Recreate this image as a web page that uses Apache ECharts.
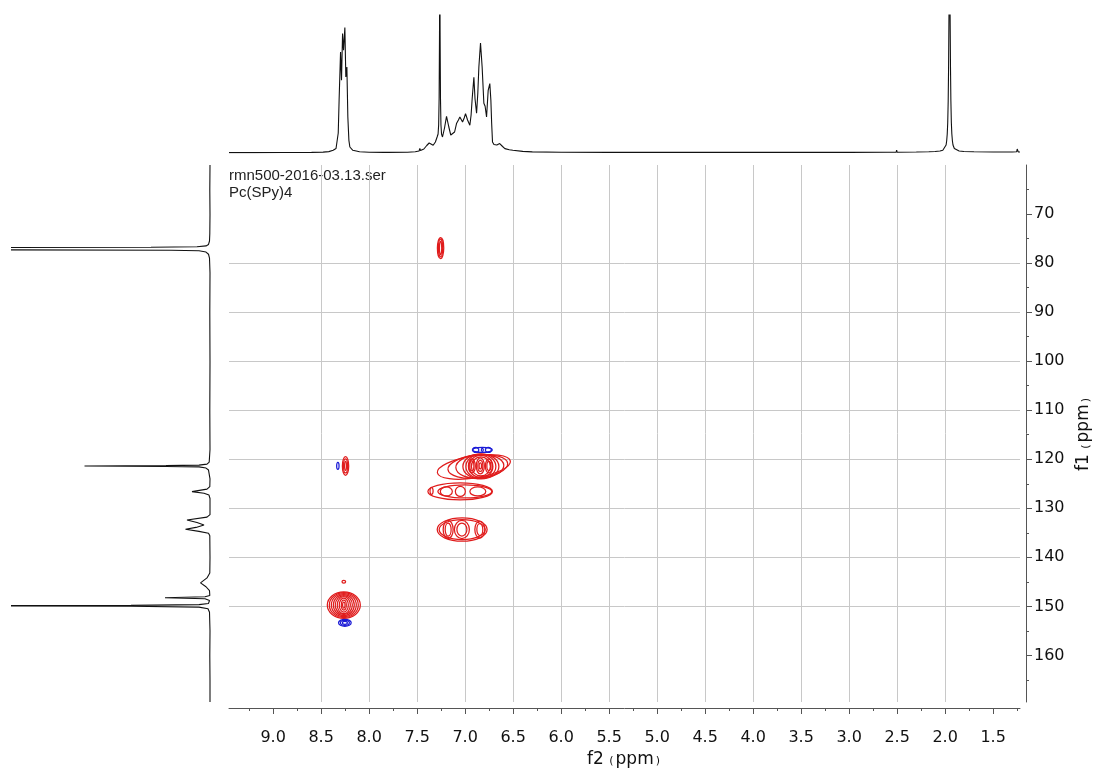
<!DOCTYPE html>
<html>
<head>
<meta charset="utf-8">
<script src="https://cdn.jsdelivr.net/npm/echarts@6/dist/echarts.min.js"></script>
<style>
  html, body { margin: 0; padding: 0; background: #ffffff; }
  #chart { width: 1095px; height: 769px; }
</style>
</head>
<body>
<div id="chart"></div>
<script>
// ---------- axis ranges and tick values (ppm) ----------
const f2Range = [1.22, 9.46];      // 1H axis (horizontal)
const f1Range = [60, 169.5];       // 13C axis (vertical)
const f2Ticks = [1.5, 2.0, 2.5, 3.0, 3.5, 4.0, 4.5, 5.0, 5.5, 6.0, 6.5, 7.0, 7.5, 8.0, 8.5, 9.0];
const f2MinorTicks = [1.25, 1.75, 2.25, 2.75, 3.25, 3.75, 4.25, 4.75, 5.25, 5.75, 6.25, 6.75, 7.25, 7.75, 8.25, 8.75, 9.25];
const f1Ticks = [70, 80, 90, 100, 110, 120, 130, 140, 150, 160];
const f1MinorTicks = [65, 75, 85, 95, 105, 115, 125, 135, 145, 155, 165];

const headerLines = ['rmn500-2016-03.13.ser', 'Pc(SPy)4'];

// ---------- 1H projection: [ppm, intensity] ----------
const protonTrace = [
  [9.46, 0.4], [9.2, 0.4], [8.9, 0.5], [8.6, 0.6], [8.48, 0.9], [8.42, 1.4], [8.375, 2.7], [8.345, 4.5],
  [8.333, 6], [8.322, 20], [8.313, 52.7], [8.298, 101], [8.288, 72.7], [8.277, 119.4], [8.267, 102.7],
  [8.253, 125.4], [8.243, 76], [8.232, 86], [8.222, 36], [8.211, 12.7], [8.201, 6], [8.185, 4], [8.170, 2.7],
  [8.10, 1.2], [8.0, 0.8], [7.85, 0.6], [7.812, 0.6], [7.806, 1.6], [7.80, 0.6], [7.6, 0.8], [7.52, 1.2],
  [7.48, 2], [7.472, 4.7], [7.465, 2.5], [7.43, 4], [7.40, 7.5], [7.375, 10], [7.355, 8.5], [7.333, 7.7],
  [7.31, 11], [7.292, 16], [7.282, 19], [7.276, 28], [7.271, 55], [7.267, 120], [7.264, 200], [7.261, 120],
  [7.257, 55], [7.252, 28], [7.246, 19], [7.236, 16], [7.215, 25], [7.194, 36.7], [7.170, 26], [7.150, 18],
  [7.131, 16], [7.110, 21], [7.090, 29.4], [7.070, 33], [7.055, 36], [7.040, 34], [7.027, 31], [7.010, 35],
  [6.996, 39.4], [6.975, 33], [6.951, 27.7], [6.938, 38], [6.927, 54], [6.909, 75.7], [6.897, 54],
  [6.881, 39.7], [6.868, 60], [6.857, 86], [6.840, 110], [6.823, 86], [6.805, 49.7], [6.792, 46.7],
  [6.777, 36], [6.760, 62.7], [6.743, 69.4], [6.732, 52.7], [6.724, 30], [6.715, 11], [6.70, 8.5],
  [6.67, 8], [6.64, 9.4], [6.61, 6.5], [6.586, 4.4], [6.54, 3.2], [6.503, 2.7], [6.40, 1.6], [6.3, 1.1],
  [6.0, 0.7], [5.5, 0.6], [5.0, 0.6], [4.5, 0.6], [4.0, 0.6], [3.5, 0.6], [3.0, 0.6], [2.6, 0.7],
  [2.51, 0.8], [2.505, 3], [2.50, 0.8], [2.3, 1.0], [2.17, 1.3], [2.16, 2], [2.15, 1.3], [2.104, 1.5],
  [2.054, 2], [2.024, 2.8], [2.004, 4.5], [1.990, 8], [1.984, 12], [1.978, 19], [1.973, 30], [1.968, 52],
  [1.964, 85], [1.959, 150], [1.954, 200], [1.949, 150], [1.944, 85], [1.940, 52], [1.935, 30], [1.930, 19],
  [1.924, 12], [1.918, 8], [1.904, 4.5], [1.884, 2.8], [1.854, 2], [1.804, 1.5], [1.7, 1.2], [1.5, 1.0],
  [1.3, 1.0], [1.255, 1.2], [1.249, 4], [1.246, 6], [1.243, 3], [1.238, 1.1], [1.22, 1.0]
];

// ---------- 13C projection: [ppm, intensity] ----------
const carbonTrace = [
  [60, 1.0], [65, 1.2], [70, 1.0], [74, 1.2], [75.5, 1.5], [76.2, 2.5], [76.5, 5], [76.68, 14], [76.78, 60],
  [76.82, 240], [77.05, 200], [77.29, 240], [77.38, 40], [77.5, 12], [77.75, 5], [78.2, 2.5], [79, 1.5],
  [82, 1.0], [90, 1.2], [100, 1.0], [110, 1.2], [118, 1.0], [120.6, 1.8], [121.0, 4], [121.2, 12],
  [121.3, 45], [121.37, 126.5], [121.45, 45], [121.55, 12], [121.8, 5], [122.2, 2.5], [122.6, 1.2],
  [124, 1.0], [125.6, 1.2], [126.1, 4], [126.6, 19], [126.95, 7], [127.3, 2], [128, 1.0], [131.3, 1.0],
  [131.8, 4], [132.39, 24], [132.9, 14], [133.41, 7], [133.9, 15], [134.29, 25.5], [134.7, 12], [135.1, 2.5],
  [135.6, 1.2], [140, 1.0], [143.2, 1.2], [144.2, 4], [145.2, 10.5], [146.0, 5], [146.8, 1.5], [147.8, 1.2],
  [148.05, 6], [148.24, 46], [148.45, 6], [148.8, 1.5], [149.4, 2.5], [149.65, 12], [149.8, 80], [149.88, 260],
  [149.98, 80], [150.15, 12], [150.5, 3], [151.2, 1.5], [155, 1.0], [160, 1.2], [165, 1.0], [169.5, 1.0]
];

// ---------- HSQC contour rings: [f2 ppm, f1 ppm, half-width f2, half-width f1, tilt deg] ----------
const positiveContours = [
  // CHCl3
  [7.256, 76.94, 0.033, 2.14, 0], [7.256, 76.94, 0.022, 1.80, 0], [7.256, 76.94, 0.012, 1.40, 0],
  // 8.25 / 121.4
  [8.246, 121.37, 0.033, 1.90, 0], [8.246, 121.37, 0.021, 1.43, 0], [8.246, 121.37, 0.010, 0.92, 0],
  // 8.26 / 149.7
  [8.264, 149.73, 0.172, 2.71, 0], [8.264, 149.73, 0.151, 2.55, 0], [8.264, 149.73, 0.130, 2.35, 0],
  [8.264, 149.73, 0.109, 2.14, 0], [8.264, 149.73, 0.089, 1.94, 0], [8.264, 149.73, 0.068, 1.73, 0],
  [8.264, 149.73, 0.047, 1.43, 0], [8.264, 149.73, 0.026, 1.02, 0], [8.264, 149.73, 0.0125, 0.61, 0],
  [8.264, 144.98, 0.019, 0.27, 0],
  // 6.85 / 121.5
  [6.909, 121.57, 0.385, 2.24, 9], [6.868, 121.47, 0.3125, 2.35, 6], [6.847, 121.47, 0.25, 2.45, 3],
  [6.836, 121.47, 0.1875, 2.55, 0], [6.836, 121.47, 0.156, 2.45, 0], [6.836, 121.47, 0.125, 2.24, 0],
  [6.836, 121.47, 0.099, 1.94, 0],
  [6.930, 121.37, 0.036, 1.43, 0], [6.930, 121.37, 0.021, 1.02, 0],
  [6.842, 121.37, 0.042, 1.63, 0], [6.842, 121.37, 0.026, 1.12, 0], [6.842, 121.37, 0.0125, 0.61, 0],
  [6.753, 121.37, 0.036, 1.43, 0], [6.753, 121.37, 0.021, 0.92, 0],
  // 7.05 / 126.6
  [7.052, 126.57, 0.336, 1.73, 0], [7.003, 126.57, 0.281, 1.33, 0], [7.350, 126.47, 0.016, 0.71, 0],
  [7.196, 126.57, 0.0625, 0.92, 0], [7.050, 126.57, 0.052, 1.02, 0], [6.868, 126.57, 0.083, 0.92, 0],
  // 7.03 / 134.3
  [7.031, 134.33, 0.260, 2.39, 0], [7.031, 134.33, 0.240, 2.04, 0],
  [7.177, 134.33, 0.052, 1.84, 0], [7.177, 134.33, 0.031, 1.33, 0],
  [7.034, 134.33, 0.078, 1.84, 0], [7.034, 134.33, 0.052, 1.33, 0],
  [6.847, 134.33, 0.052, 1.73, 0], [6.847, 134.33, 0.031, 1.22, 0]
];
const negativeContours = [
  [8.326, 121.37, 0.0125, 0.71, 0],
  [8.253, 153.35, 0.066, 0.71, 0], [8.253, 153.35, 0.047, 0.51, 0], [8.253, 153.35, 0.026, 0.31, 0],
  [6.889, 118.10, 0.031, 0.51, 0], [6.758, 118.10, 0.031, 0.51, 0], [6.821, 118.10, 0.104, 0.51, 0],
  [6.821, 118.10, 0.010, 0.31, 0]
];

// ---------- drawing ----------
const FONT = 'DejaVu Sans';
const AXIS_COLOR = '#555555';
const TEXT_COLOR = '#111111';

function contourRenderer(color) {
  return function (params, api) {
    const c = api.coord([api.value(0), api.value(1)]);
    const s = api.size([api.value(2), api.value(3)]);
    return {
      type: 'ellipse',
      x: c[0],
      y: c[1],
      rotation: api.value(4) * Math.PI / 180,
      shape: { cx: 0, cy: 0, rx: s[0], ry: s[1] },
      style: { fill: 'none', stroke: color, lineWidth: 1.25 }
    };
  };
}

const axisNameRich = {
  a: { fontFamily: FONT, fontSize: 17, color: TEXT_COLOR },
  b: { fontFamily: FONT, fontSize: 11, color: TEXT_COLOR, padding: [4, 2, 0, 2] }
};

const chart = echarts.init(document.getElementById('chart'), null, { renderer: 'canvas' });

const option = {
  animation: false,
  backgroundColor: '#ffffff',
  grid: [
    { left: 229, right: 75, top: 165, bottom: 67, containLabel: false, outerBoundsMode: 'none' },
    { left: 229, right: 75, top: 15, height: 138, containLabel: false, outerBoundsMode: 'none' },
    { left: 12, width: 199, top: 165, bottom: 67, containLabel: false, outerBoundsMode: 'none' }
  ],
  xAxis: [
    {
      gridIndex: 0, type: 'value', min: f2Range[0], max: f2Range[1], inverse: true,
      position: 'bottom', offset: 6,
      splitNumber: 16, minInterval: 0.5, maxInterval: 0.5,
      axisLine: { show: true, onZero: false, lineStyle: { color: AXIS_COLOR, width: 1 } },
      axisTick: { show: true, length: 6, customValues: f2Ticks, lineStyle: { color: AXIS_COLOR, width: 1 } },
      axisLabel: {
        show: true, customValues: f2Ticks, margin: 22,
        formatter: v => Number(v).toFixed(1),
        color: TEXT_COLOR, fontSize: 16, fontFamily: FONT
      },
      minorTick: { show: false },
      splitLine: { show: true, showMinLine: false, showMaxLine: false, lineStyle: { color: '#c8c8c8', width: 1 } },
      name: '{a|f2}{b| (}{a|ppm}{b|)}',
      nameLocation: 'middle', nameGap: 30,
      nameTextStyle: { fontFamily: FONT, fontSize: 17, color: TEXT_COLOR, rich: axisNameRich }
    },
    {
      gridIndex: 0, type: 'value', min: f2Range[0], max: f2Range[1], inverse: true,
      position: 'bottom', offset: 6,
      axisLine: { show: false, onZero: false },
      axisTick: { show: true, length: 3, customValues: f2MinorTicks, lineStyle: { color: AXIS_COLOR, width: 1 } },
      axisLabel: { show: false },
      splitLine: { show: false }
    },
    { gridIndex: 1, type: 'value', min: f2Range[0], max: f2Range[1], inverse: true, show: false },
    { gridIndex: 2, type: 'value', min: 0, max: 199, inverse: true, show: false }
  ],
  yAxis: [
    {
      gridIndex: 0, type: 'value', min: f1Range[0], max: f1Range[1], inverse: true,
      position: 'right', offset: 6,
      splitNumber: 11, minInterval: 10, maxInterval: 10,
      axisLine: { show: true, onZero: false, lineStyle: { color: AXIS_COLOR, width: 1 } },
      axisTick: { show: true, length: 6, customValues: f1Ticks, lineStyle: { color: AXIS_COLOR, width: 1 } },
      axisLabel: {
        show: true, customValues: f1Ticks, margin: 8,
        color: TEXT_COLOR, fontSize: 16, fontFamily: FONT
      },
      splitLine: { show: true, showMinLine: false, showMaxLine: false, lineStyle: { color: '#c8c8c8', width: 1 } },
      name: '{a|f1}{b| (}{a|ppm}{b|)}',
      nameLocation: 'middle', nameGap: 44, nameRotate: 90,
      nameTextStyle: { fontFamily: FONT, fontSize: 17, color: TEXT_COLOR, rich: axisNameRich }
    },
    {
      gridIndex: 0, type: 'value', min: f1Range[0], max: f1Range[1], inverse: true,
      position: 'right', offset: 6,
      axisLine: { show: false, onZero: false },
      axisTick: { show: true, length: 3, customValues: f1MinorTicks, lineStyle: { color: AXIS_COLOR, width: 1 } },
      axisLabel: { show: false },
      splitLine: { show: false }
    },
    { gridIndex: 1, type: 'value', min: 0, max: 138, show: false },
    { gridIndex: 2, type: 'value', min: f1Range[0], max: f1Range[1], inverse: true, show: false }
  ],
  series: [
    {
      type: 'custom', name: 'positive', xAxisIndex: 0, yAxisIndex: 0,
      clip: true, silent: true,
      encode: { x: 0, y: 1 },
      renderItem: contourRenderer('#e01c1c'),
      data: positiveContours
    },
    {
      type: 'custom', name: 'negative', xAxisIndex: 0, yAxisIndex: 0,
      clip: true, silent: true,
      encode: { x: 0, y: 1 },
      renderItem: contourRenderer('#1c1cd6'),
      data: negativeContours
    },
    {
      type: 'line', name: '1H', xAxisIndex: 2, yAxisIndex: 2,
      showSymbol: false, symbol: 'none', clip: true, silent: true,
      lineStyle: { color: '#111111', width: 1.1 },
      data: protonTrace
    },
    {
      type: 'line', name: '13C', xAxisIndex: 3, yAxisIndex: 3,
      showSymbol: false, symbol: 'none', clip: true, silent: true,
      lineStyle: { color: '#111111', width: 1.1 },
      data: carbonTrace.map(p => [p[1], p[0]])
    }
  ],
  graphic: [
    {
      type: 'text', left: 229, top: 167, silent: true,
      style: {
        text: headerLines.join('\n'),
        fontFamily: 'Liberation Sans', fontSize: 15, lineHeight: 17,
        fill: '#222222'
      }
    }
  ]
};

chart.setOption(option);
</script>
</body>
</html>
